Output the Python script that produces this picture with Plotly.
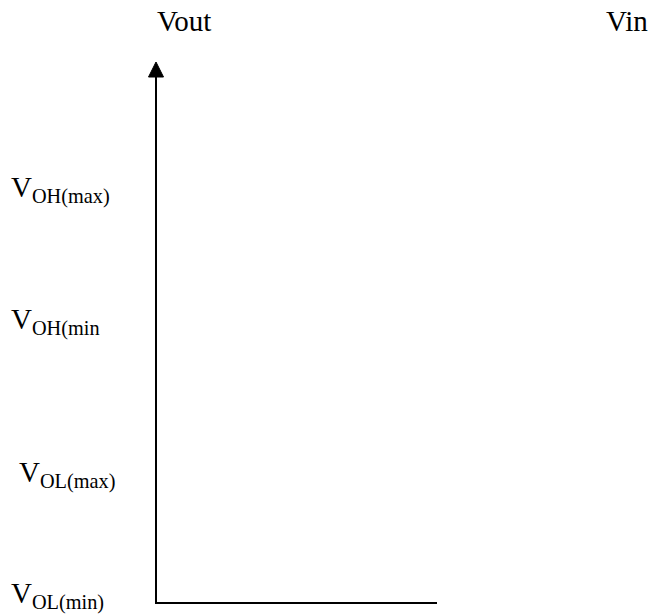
import plotly.graph_objects as go

# Axis titles
x_axis_label = "Vin"
y_axis_label = "Vout"

# Level labels (main letter + subscript) and their positions (px; y measured from top)
level_main = ["V", "V", "V", "V"]
level_sub = ["OH(max)", "OH(min", "OL(max)", "OL(min)"]
level_y = [209, 341, 494, 615]
level_x = [10, 10, 18, 10]

W, H = 655, 615
FONT = "Liberation Serif"
FS = 29

origin_x, origin_y = 156, 603
axis_top = 62
axis_right = 437

fig = go.Figure()

shapes = [
    dict(type="line", x0=origin_x, y0=origin_y, x1=origin_x, y1=axis_top + 12,
         line=dict(color="black", width=2), xref="x", yref="y"),
    dict(type="line", x0=origin_x - 1, y0=origin_y, x1=axis_right, y1=origin_y,
         line=dict(color="black", width=2), xref="x", yref="y"),
    dict(type="path",
         path=f"M {origin_x-7.5},{axis_top+15} L {origin_x+7.5},{axis_top+15} L {origin_x},{axis_top} Z",
         fillcolor="black", line=dict(color="black", width=1), xref="x", yref="y"),
]


def px(x):
    return x / W


def py(y):
    return 1 - y / H


annotations = []
for m, s, y, x in zip(level_main, level_sub, level_y, level_x):
    annotations.append(dict(
        x=px(x), y=py(y), xref="paper", yref="paper", xanchor="left", yanchor="bottom",
        text=f"{m}<sub>{s}</sub>", showarrow=False,
        font=dict(family=FONT, size=FS, color="black"), borderpad=0,
    ))

annotations.append(dict(x=px(156), y=py(38), xref="paper", yref="paper", xanchor="left", yanchor="bottom",
                        text=y_axis_label, showarrow=False, borderpad=0,
                        font=dict(family=FONT, size=FS, color="black")))
annotations.append(dict(x=px(605), y=py(38), xref="paper", yref="paper", xanchor="left", yanchor="bottom",
                        text=x_axis_label, showarrow=False, borderpad=0,
                        font=dict(family=FONT, size=FS, color="black")))

fig.update_layout(
    width=W, height=H,
    margin=dict(l=0, r=0, t=0, b=0),
    paper_bgcolor="white", plot_bgcolor="white",
    xaxis=dict(range=[0, W], visible=False, fixedrange=True),
    yaxis=dict(range=[H, 0], visible=False, fixedrange=True),
    shapes=shapes, annotations=annotations, showlegend=False,
)

fig.write_html("out.html", config={"displayModeBar": False},
               post_script="document.body.style.margin='0';document.body.style.overflow='hidden';")
